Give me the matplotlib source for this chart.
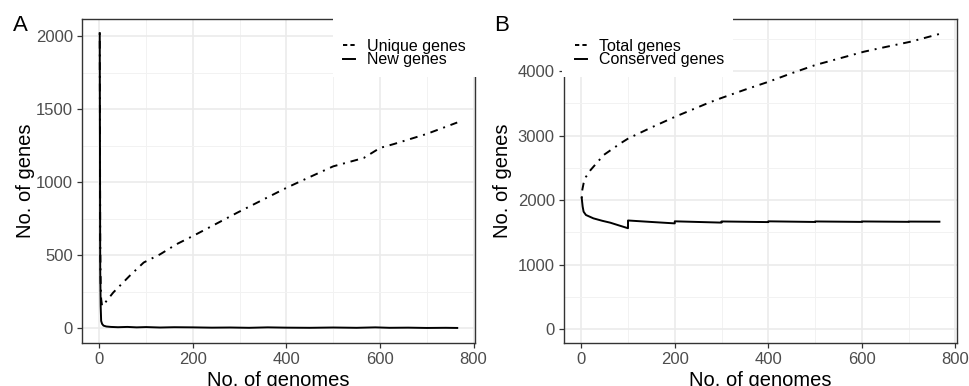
import matplotlib
matplotlib.use("Agg")
import matplotlib.pyplot as plt
from matplotlib.lines import Line2D
from matplotlib.patches import Rectangle
from matplotlib.ticker import MultipleLocator


#------------------------------------------------------------------------------
# Datos
#------------------------------------------------------------------------------

# Panel A - unique genes
unique_x = [1, 2, 3, 4, 6, 10, 30, 65, 95, 130, 165, 200, 250, 295, 350,
            400, 450, 500, 565, 600, 630, 700, 765]
unique_y = [2020, 600, 300, 200, 152, 165, 245, 359, 450, 506, 575, 631, 715,
            791, 880, 961, 1035, 1108, 1165, 1234, 1261, 1330, 1408]

# Panel A - new genes
new_x = [1, 2, 3, 4, 6, 9, 15, 25, 40, 60, 80, 100, 130, 160, 200, 240, 280,
         320, 360, 400, 450, 500, 550, 590, 620, 660, 700, 740, 765]
new_y = [2020, 400, 150, 50, 30, 18, 12, 9, 7, 9, 6, 8, 5, 7, 6, 4, 5, 3, 6,
         4, 3, 5, 3, 6, 3, 4, 2, 3, 2]

# Panel B - total genes
total_x = [1, 2, 5, 10, 20, 48, 84, 101, 150, 201, 273, 298, 350, 401, 450,
           501, 550, 605, 650, 705, 766]
total_y = [2030, 2150, 2261, 2360, 2467, 2699, 2880, 2957, 3125, 3292, 3509,
           3577, 3710, 3834, 3965, 4093, 4190, 4299, 4370, 4454, 4573]

# Panel B - conserved genes (saltos cada 100 genomas)
cons_x = [1, 3, 5, 10, 26, 45, 62, 80, 100, 100, 150, 200, 200, 300, 300,
          400, 400, 500, 500, 600, 600, 700, 700, 766]
cons_y = [2030, 1900, 1821, 1770, 1718, 1680, 1651, 1610, 1565, 1685, 1662,
          1640, 1672, 1652, 1670, 1660, 1672, 1662, 1670, 1663, 1670, 1664,
          1668, 1666]

x_ticks = [0, 200, 400, 600, 800]
ya_ticks = [0, 500, 1000, 1500, 2000]
yb_ticks = [0, 1000, 2000, 3000, 4000]

legend_a = ["Unique genes", "New genes"]
legend_b = ["Total genes", "Conserved genes"]


#------------------------------------------------------------------------------
# Funciones
#------------------------------------------------------------------------------

DOTDASH = (0, (1, 3, 4, 3))
LW = 1.4


def estilo_panel(ax, yticks, ylim, ylabel_x):
    ax.set_xlim(-37, 803)
    ax.set_ylim(*ylim)
    ax.set_xticks(x_ticks)
    ax.set_yticks(yticks)
    ax.xaxis.set_minor_locator(MultipleLocator(100))
    ax.yaxis.set_minor_locator(MultipleLocator((yticks[1] - yticks[0]) / 2))
    ax.grid(True, which="major", color="#EBEBEB", lw=1.2, zorder=0)
    ax.grid(True, which="minor", color="#F2F2F2", lw=0.7, zorder=0)
    ax.set_axisbelow(True)
    for s in ax.spines.values():
        s.set_color("#333333")
        s.set_linewidth(1.0)
    ax.tick_params(which="major", length=3.6, width=0.9, color="#333333",
                   labelcolor="#4D4D4D", labelsize=12, pad=3)
    ax.tick_params(which="minor", length=0)
    ax.set_xlabel("No. of genomes", fontsize=14.5, color="black")
    ax.set_ylabel("No. of genes", fontsize=14.5, color="black")
    ax.xaxis.set_label_coords(0.5, -0.086)
    ax.yaxis.set_label_coords(ylabel_x, 0.5)


def leyenda(ax, labels, x_box, w_box, x_leg):
    # caja blanca que tapa el borde del panel
    ax.add_patch(Rectangle((x_box, 0.822), w_box, 0.185, transform=ax.transAxes,
                           facecolor="white", edgecolor="none", clip_on=False,
                           zorder=4))
    handles = [Line2D([], [], color="black", lw=LW, ls=(0, (2.2, 1.6))),
               Line2D([], [], color="black", lw=LW, ls="-")]
    ax.legend(handles, labels, loc="upper left", bbox_to_anchor=(x_leg, 0.94),
              frameon=False, fontsize=11.5, handlelength=0.75,
              handletextpad=0.75, labelspacing=-0.1, borderpad=0,
              borderaxespad=0)


# -----------------------------------------------------------------------------
# Main
# -----------------------------------------------------------------------------

plt.rcParams["font.family"] = ["Liberation Sans", "DejaVu Sans"]

fig = plt.figure(figsize=(9.7, 3.86), dpi=100)
ax_a = fig.add_axes([0.0845, 0.1114, 0.4052, 0.8381])
ax_b = fig.add_axes([0.5814, 0.1114, 0.4049, 0.8381])

# Panel A
ax_a.plot(unique_x, unique_y, color="black", lw=LW, ls=DOTDASH, zorder=3)
ax_a.plot(new_x, new_y, color="black", lw=LW, zorder=3)
estilo_panel(ax_a, ya_ticks, (-101, 2113), -0.12)
leyenda(ax_a, legend_a, 0.639, 0.37, 0.664)

# Panel B
ax_b.plot(total_x, total_y, color="black", lw=LW, ls=DOTDASH, zorder=3)
ax_b.plot(cons_x, cons_y, color="black", lw=LW, zorder=3)
estilo_panel(ax_b, yb_ticks, (-212, 4797), -0.133)
leyenda(ax_b, legend_b, -0.005, 0.435, 0.028)

fig.text(0.0131, 0.962, "A", fontsize=16, va="top", ha="left")
fig.text(0.5096, 0.962, "B", fontsize=16, va="top", ha="left")

fig.savefig("out.png", dpi=100)
